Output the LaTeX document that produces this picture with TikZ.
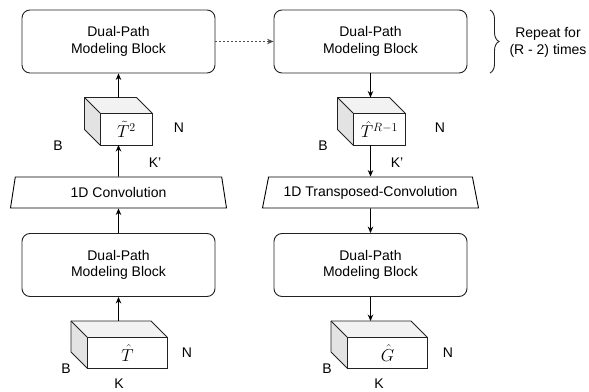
\documentclass[tikz,border=0pt]{standalone}
\usepackage{fontspec}
\setmainfont{Liberation Sans}
\usetikzlibrary{shapes.geometric,arrows.meta,decorations.pathreplacing}
\definecolor{edge}{HTML}{222222}
\definecolor{topface}{HTML}{F2F2F2}
\definecolor{sideface}{HTML}{E3E3E3}
\tikzset{
  dpm/.style={draw=edge, line width=0.9pt, rounded corners=8pt, minimum width=193pt, minimum height=63pt, align=center, inner sep=0pt, font=\fontsize{14}{16.5}\selectfont},
  conv/.style={draw=black, line width=0.9pt, trapezium, trapezium left angle=65, trapezium right angle=65, trapezium stretches body, minimum width=216pt, minimum height=31pt, inner sep=0pt, font=\fontsize{14}{16.5}\selectfont},
  front/.style={draw=edge, line width=0.9pt, fill=white, inner sep=0pt, font=\fontsize{17.28}{20}\selectfont},
  lbl/.style={inner sep=0pt, font=\fontsize{14}{16.5}\selectfont},
  arr/.style={draw=black, line width=0.9pt, -{Stealth[length=6.5pt,width=5.5pt]}},
  dotarr/.style={draw=edge!80, line width=0.9pt, dash pattern=on 2pt off 2pt, -{Stealth[length=6.5pt,width=5.5pt]}},
}
% cube: name, front-left x, front-top y, width, height, depth, content
\newcommand{\mycube}[7]{%
  \fill[sideface] (#2-#6,#3-#6) -- (#2,#3) -- (#2,#3+#5) -- (#2-#6,#3+#5-#6) -- cycle;
  \fill[topface] (#2-#6,#3-#6) -- (#2+#4-#6,#3-#6) -- (#2+#4,#3) -- (#2,#3) -- cycle;
  \draw[edge, line width=0.9pt, line join=round] (#2,#3+#5) -- (#2-#6,#3+#5-#6) -- (#2-#6,#3-#6) -- (#2+#4-#6,#3-#6) -- (#2+#4,#3);
  \draw[edge, line width=0.9pt] (#2-#6,#3-#6) -- (#2,#3);
  \node[front, minimum width=#4pt, minimum height=#5pt, anchor=north west] (#1) at (#2,#3) {#7};
}
\begin{document}
\begin{tikzpicture}[x=1pt,y=-1pt]
\useasboundingbox (0,0) rectangle (589,391);
% blocks
\node[dpm] (dpm1) at (118.5,41.5) {Dual-Path\\Modeling Block};
\node[dpm] (dpm2) at (370.5,41.5) {Dual-Path\\Modeling Block};
\node[dpm] (dpm0) at (118.5,265) {Dual-Path\\Modeling Block};
\node[dpm] (dpm3) at (370.5,265) {Dual-Path\\Modeling Block};
% convolutions
\node[conv] (conv) at (118.5,192.5) {1D Convolution};
\node[conv] (tconv) at (370.5,192.5) {1D Transposed-Convolution};
% cubes
\mycube{c1}{100}{113}{52}{32}{15.5}{$\tilde{T}^{2}$}
\mycube{c2}{353}{113}{52}{32}{15.5}{$\hat{T}^{R-1}$}
\mycube{c0}{87}{337}{80}{31}{16}{$\hat{T}$}
\mycube{c3}{347}{337}{80}{31}{16}{$\hat{G}$}
\coordinate (c1top) at (118.5,97.5);
\coordinate (c2top) at (370.5,97.5);
\coordinate (c0top) at (118.5,321);
\coordinate (c3top) at (370.5,321);
\coordinate (c1bot) at (118.5,145);
\coordinate (c2bot) at (370.5,145);
% dimension labels
\node[lbl] (n1) at (179,128) {N};
\node[lbl] (b1) at (58,146) {B};
\node[lbl] (k1) at (155,163) {K'};
\node[lbl] (n2) at (440,128) {N};
\node[lbl] (b2) at (323,146) {B};
\node[lbl] (k2) at (397,163) {K'};
\node[lbl] (n0) at (187,353) {N};
\node[lbl] (b0) at (66,369) {B};
\node[lbl] (k0) at (119,384) {K};
\node[lbl] (n3) at (448,353) {N};
\node[lbl] (b3) at (327,369) {B};
\node[lbl] (k3) at (379,384) {K};
% connectors
\draw[arr] (c0top) -- (dpm0.south);
\draw[arr] (dpm0.north) -- (conv.south);
\draw[arr] (conv.north) -- (c1bot);
\draw[arr] (c1top) -- (dpm1.south);
\draw[dotarr] (dpm1.east) -- (dpm2.west);
\draw[arr] (dpm2.south) -- (c2top);
\draw[arr] (c2bot) -- (tconv.north);
\draw[arr] (tconv.south) -- (dpm3.north);
\draw[arr] (dpm3.south) -- (c3top);
% brace
\coordinate (bra) at (490,10);
\coordinate (brb) at (490,73);
\draw[edge, line width=0.9pt, decorate, decoration={brace, amplitude=9pt}] (bra) -- (brb);
\node[lbl, align=center] (rep) at (548,42.5) {Repeat for\\(R - 2) times};
\end{tikzpicture}
\end{document}
